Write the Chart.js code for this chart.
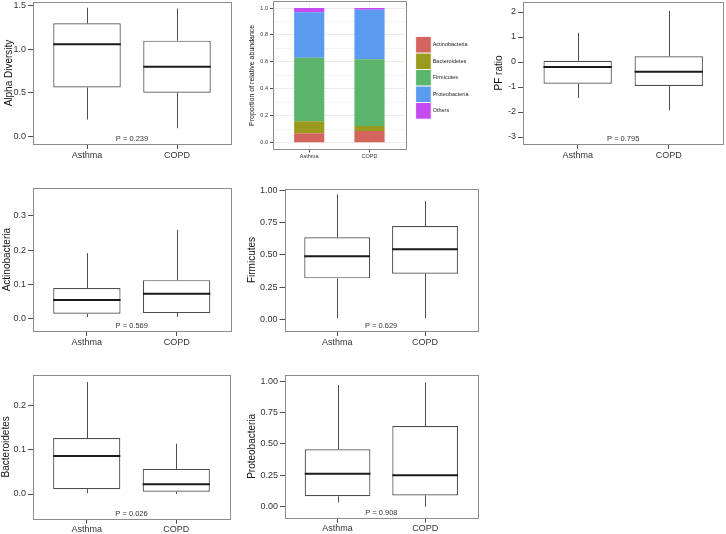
<!DOCTYPE html>
<html>
<head>
<meta charset="utf-8">
<script src="https://cdn.jsdelivr.net/npm/chart.js@4/dist/chart.umd.min.js"></script>
<style>
body { margin: 0; background: #fff; width: 726px; height: 534px; position: relative; overflow: hidden; }
canvas { position: absolute; }
</style>
</head>
<body>
<canvas id="alpha" width="236" height="165" style="left:0;top:0"></canvas>
<canvas id="stack" width="240" height="162" style="left:240px;top:0"></canvas>
<canvas id="pf" width="246" height="165" style="left:480px;top:0"></canvas>
<canvas id="actino" width="236" height="185" style="left:0;top:170px"></canvas>
<canvas id="firm" width="246" height="185" style="left:236px;top:170px"></canvas>
<canvas id="bact" width="236" height="174" style="left:0;top:360px"></canvas>
<canvas id="proteo" width="246" height="174" style="left:236px;top:360px"></canvas>
<script>
Chart.defaults.font.family = "'Liberation Sans', Arial, sans-serif";

const groups = ['Asthma', 'COPD'];

// five-number summaries per group: [min, q1, median, q3, max]
const alphaStats = [[0.19, 0.56, 1.06, 1.30, 1.48], [0.09, 0.50, 0.80, 1.10, 1.47]];
const pfStats = [[-1.44, -0.87, -0.20, 0.05, 1.17], [-1.93, -0.96, -0.39, 0.23, 2.04]];
const actinoStats = [[0.004, 0.0135, 0.054, 0.089, 0.191], [0.004, 0.0155, 0.072, 0.112, 0.259]];
const firmStats = [[0.013, 0.319, 0.489, 0.635, 0.967], [0.013, 0.355, 0.543, 0.722, 0.915]];
const bactStats = [[0.002, 0.011, 0.086, 0.127, 0.254], [0.0, 0.005, 0.022, 0.057, 0.114]];
const proteoStats = [[0.035, 0.083, 0.263, 0.457, 0.968], [0.0, 0.09, 0.25, 0.642, 0.99]];

const alphaTicks = [0, 0.5, 1, 1.5];
const pfTicks = [-3, -2, -1, 0, 1, 2];
const actinoTicks = [0, 0.1, 0.2, 0.3];
const firmTicks = [0, 0.25, 0.5, 0.75, 1];
const bactTicks = [0, 0.1, 0.2];
const proteoTicks = [0, 0.25, 0.5, 0.75, 1];

// relative abundance (Asthma, COPD)
const phyla = ['Actinobacteria', 'Bacteroidetes', 'Firmicutes', 'Proteobacteria', 'Others'];
const actinoShare = [0.070, 0.087];
const bactShare = [0.089, 0.037];
const firmShare = [0.472, 0.495];
const proteoShare = [0.337, 0.368];
const otherShare = [0.032, 0.013];
const stackTicks = [0, 0.1, 0.2, 0.3, 0.4, 0.5, 0.6, 0.7, 0.8, 0.9, 1.0];
const phylaColors = ['#d4645e', '#9a9a1e', '#5cb56c', '#5b9bef', '#c34bef'];

const framePlugin = {
  id: 'frame',
  afterDraw(chart) {
    const a = chart.chartArea, ctx = chart.ctx;
    ctx.save();
    ctx.strokeStyle = '#8c8c8c';
    ctx.lineWidth = 1;
    ctx.strokeRect(Math.round(a.left) + 0.5, Math.round(a.top) + 0.5,
      Math.round(a.right - a.left), Math.round(a.bottom - a.top));
    ctx.restore();
  }
};

const boxPlugin = {
  id: 'whiskers',
  afterDatasetsDraw(chart) {
    const y = chart.scales.y, ctx = chart.ctx;
    const stats = chart.data.datasets[0].stats;
    ctx.save();
    chart.getDatasetMeta(0).data.forEach((bar, i) => {
      const [lo, q1, med, q3, hi] = stats[i];
      const x = Math.round(bar.x) + 0.5;
      ctx.strokeStyle = '#4d4d4d';
      ctx.lineWidth = 1;
      ctx.beginPath();
      ctx.moveTo(x, y.getPixelForValue(hi));
      ctx.lineTo(x, y.getPixelForValue(q3));
      ctx.moveTo(x, y.getPixelForValue(q1));
      ctx.lineTo(x, y.getPixelForValue(lo));
      ctx.stroke();
      ctx.strokeStyle = '#1a1a1a';
      ctx.lineWidth = 2;
      ctx.beginPath();
      const ym = y.getPixelForValue(med);
      ctx.moveTo(bar.x - bar.width / 2, ym);
      ctx.lineTo(bar.x + bar.width / 2, ym);
      ctx.stroke();
    });
    ctx.restore();
  }
};

const pLabelPlugin = {
  id: 'pLabel',
  afterDraw(chart, args, opts) {
    const ctx = chart.ctx;
    ctx.save();
    ctx.font = "7.5px 'Liberation Sans', Arial, sans-serif";
    ctx.fillStyle = '#333';
    ctx.textAlign = 'center';
    ctx.textBaseline = 'middle';
    ctx.fillText(opts.text, chart.scales.x.getPixelForValue(1.5), chart.chartArea.bottom - 5);
    ctx.restore();
  }
};

const legendPlugin = {
  id: 'sideLegend',
  afterDraw(chart) {
    const ctx = chart.ctx, a = chart.chartArea;
    const sets = chart.data.datasets;
    const w = 15.5, h = 16.5;
    const x0 = a.right + 10;
    const y0 = (a.top + a.bottom) / 2 + 2.5 - sets.length * h / 2;
    ctx.save();
    ctx.font = "5.5px 'Liberation Sans', Arial, sans-serif";
    ctx.textBaseline = 'middle';
    sets.forEach((ds, i) => {
      ctx.fillStyle = ds.backgroundColor;
      ctx.fillRect(x0, y0 + i * h, w, h);
      ctx.strokeStyle = '#fff';
      ctx.lineWidth = 0.8;
      ctx.strokeRect(x0, y0 + i * h, w, h);
      ctx.fillStyle = '#222';
      ctx.fillText(ds.label, x0 + w + 1.5, y0 + i * h + h / 2);
    });
    ctx.restore();
  }
};

function boxChart(id, o) {
  new Chart(document.getElementById(id), {
    type: 'bar',
    data: {
      datasets: [{
        data: o.stats.map((s, i) => ({x: i + 1, y: [s[1], s[3]]})),
        stats: o.stats,
        backgroundColor: '#fff',
        borderColor: '#4d4d4d',
        borderWidth: 1.2,
        borderSkipped: false,
        barPercentage: 0.75,
        categoryPercentage: 1
      }]
    },
    options: {
      responsive: false,
      animation: false,
      layout: {padding: {top: o.top, right: o.right, left: 0, bottom: 0}},
      plugins: {legend: {display: false}, tooltip: {enabled: false}, pLabel: {text: 'P = ' + o.p}},
      scales: {
        x: {
          type: 'linear', min: 0.4, max: 2.6, offset: false,
          afterBuildTicks: s => { s.ticks = [1, 2].map(v => ({value: v})); },
          afterFit: s => { s.height = o.xh; s.paddingLeft = 0; s.paddingRight = 0; },
          ticks: {callback: v => groups[v - 1], font: {size: 9}, color: '#333', padding: o.xpad, maxRotation: 0, autoSkip: false},
          grid: {offset: false, drawOnChartArea: false, tickLength: 5, tickColor: '#4d4d4d'},
          border: {display: false}
        },
        y: {
          min: o.min, max: o.max,
          afterBuildTicks: s => { s.ticks = o.ticks.map(v => ({value: v})); },
          afterFit: s => { s.width = o.yw; s.paddingTop = 0; s.paddingBottom = 0; },
          ticks: {callback: v => v.toFixed(o.dec), font: {size: 9}, color: '#333', padding: 2},
          grid: {drawOnChartArea: false, tickLength: 5, tickColor: '#4d4d4d'},
          border: {display: false},
          title: {display: true, text: o.title, font: {size: 10}, color: '#111', padding: {top: o.tpad, bottom: 0}}
        }
      }
    },
    plugins: [boxPlugin, framePlugin, pLabelPlugin]
  });
}

boxChart('alpha', {stats: alphaStats, ticks: alphaTicks, dec: 1, title: 'Alpha Diversity', p: '0.239',
  min: -0.092, max: 1.546, top: 2, right: 5, yw: 33, xh: 21, xpad: 1.5, tpad: 3});
boxChart('pf', {stats: pfStats, ticks: pfTicks, dec: 0, title: 'PF ratio', p: '0.795',
  min: -3.28, max: 2.4, top: 2, right: 2.6, yw: 43, xh: 21, xpad: 1.5, tpad: 13});
boxChart('actino', {stats: actinoStats, ticks: actinoTicks, dec: 1, title: 'Actinobacteria', p: '0.569',
  min: -0.037, max: 0.381, top: 18.3, right: 5.5, yw: 33, xh: 24, xpad: 1.5, tpad: 1.3});
boxChart('firm', {stats: firmStats, ticks: firmTicks, dec: 2, title: 'Firmicutes', p: '0.629',
  min: -0.087, max: 1.008, top: 19, right: 4.3, yw: 48.5, xh: 24, xpad: 1.5, tpad: 10.5});
boxChart('bact', {stats: bactStats, ticks: bactTicks, dec: 1, title: 'Bacteroidetes', p: '0.026',
  min: -0.056, max: 0.27, top: 15, right: 6, yw: 33, xh: 15.3, xpad: 0, tpad: 0.3});
boxChart('proteo', {stats: proteoStats, ticks: proteoTicks, dec: 2, title: 'Proteobacteria', p: '0.908',
  min: -0.0875, max: 1.048, top: 15, right: 4.3, yw: 49, xh: 16.3, xpad: 0, tpad: 10.5});

const shares = [actinoShare, bactShare, firmShare, proteoShare, otherShare];

new Chart(document.getElementById('stack'), {
  type: 'bar',
  data: {
    datasets: phyla.map((name, k) => ({
      label: name,
      data: shares[k].map((v, i) => ({x: i + 1, y: v})),
      backgroundColor: phylaColors[k],
      barPercentage: 0.5,
      categoryPercentage: 1
    }))
  },
  options: {
    responsive: false,
    animation: false,
    layout: {padding: {top: 1.3, right: 74.3, left: 0, bottom: 0}},
    plugins: {legend: {display: false}, tooltip: {enabled: false}},
    scales: {
      x: {
        type: 'linear', min: 0.4, max: 2.6, stacked: true, offset: false,
        afterBuildTicks: s => { s.ticks = [1, 2].map(v => ({value: v})); },
        afterFit: s => { s.height = 162 - 149.4; s.paddingLeft = 0; s.paddingRight = 0; },
        ticks: {callback: v => groups[v - 1], font: {size: 5.5}, color: '#333', padding: 1, maxRotation: 0, autoSkip: false},
        grid: {offset: false, color: '#eeeeee', tickLength: 3, tickColor: '#4d4d4d'},
        border: {display: false}
      },
      y: {
        min: -0.05, max: 1.05, stacked: true,
        afterBuildTicks: s => { s.ticks = stackTicks.map(v => ({value: v})); },
        afterFit: s => { s.width = 33; s.paddingTop = 0; s.paddingBottom = 0; },
        ticks: {
          callback: v => (Math.round(v * 10) % 2 === 0 ? v.toFixed(1) : ''),
          font: {size: 5.5}, color: '#333', padding: 2, autoSkip: false
        },
        grid: {
          color: c => (Math.round(c.tick.value * 10) % 2 === 0 ? '#ebebeb' : '#f4f4f4'),
          tickColor: c => (Math.round(c.tick.value * 10) % 2 === 0 ? '#4d4d4d' : 'rgba(0,0,0,0)'),
          tickLength: 3
        },
        border: {display: false},
        title: {display: true, text: 'Proportion of relative abundance', font: {size: 7}, color: '#111', padding: {top: 7.5, bottom: 0}}
      }
    }
  },
  plugins: [framePlugin, legendPlugin]
});
</script>
</body>
</html>
